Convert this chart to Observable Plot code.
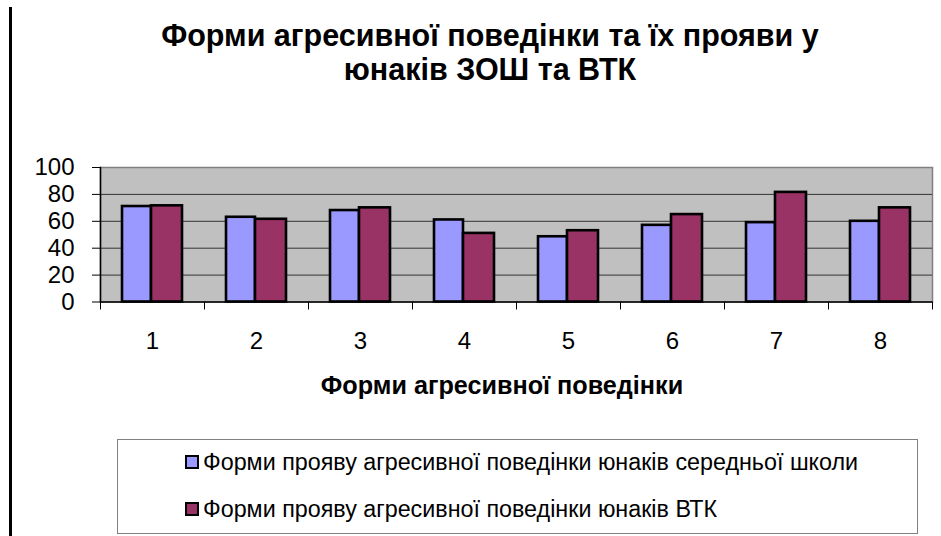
<!DOCTYPE html>
<html>
<head>
<meta charset="utf-8">
<script src="https://cdn.jsdelivr.net/npm/d3@7"></script>
<script src="https://cdn.jsdelivr.net/npm/@observablehq/plot@0.6"></script>
<style>
  html, body { margin: 0; padding: 0; background: #fff; }
  #wrap { position: relative; width: 941px; height: 536px; overflow: hidden; font-family: "Liberation Sans", Arial, sans-serif; color: #000; }
  #leftline { position: absolute; left: 9px; top: 7px; width: 3px; height: 529px; background: #000; }
  #title { position: absolute; left: 40px; width: 900px; top: 18px; text-align: center; font-weight: bold; font-size: 30.5px; line-height: 34px; }
  #chart { position: absolute; left: 0; top: 157px; }
  #xtitle { position: absolute; left: 202px; width: 600px; top: 371px; text-align: center; font-weight: bold; font-size: 25.2px; }
  #legend { position: absolute; left: 117px; top: 439px; width: 799px; height: 93px; border: 1px solid #808080; }
  .item { position: absolute; left: 67px; font-size: 23.3px; white-space: nowrap; }
  .sw { display: inline-block; width: 10px; height: 10px; border: 2px solid #000; margin-right: 4px; vertical-align: 1px; }
</style>
</head>
<body>
<div id="wrap">
  <div id="leftline"></div>
  <div id="title"></div>
  <div id="chart"></div>
  <div id="xtitle"></div>
  <div id="legend"></div>
</div>
<script>
const titleLines = ["Форми агресивної поведінки та їх прояви у", "юнаків ЗОШ та ВТК"];
const xTitle = "Форми агресивної поведінки";
const groups = [1, 2, 3, 4, 5, 6, 7, 8];
const seriesNames = [
  "Форми прояву агресивної поведінки юнаків середньої школи",
  "Форми прояву агресивної поведінки юнаків ВТК"
];
const seriesColors = ["#9999ff", "#993366"];
const school = [71, 63, 68, 61, 48.5, 57, 59, 60];
const vtk = [71.5, 61.5, 70, 51, 53, 65, 81.5, 70];
const yTicks = [0, 20, 40, 60, 80, 100];

const rows = groups.flatMap((g, i) => [
  {group: g, series: seriesNames[0], value: school[i]},
  {group: g, series: seriesNames[1], value: vtk[i]}
]);

document.getElementById("title").innerHTML = titleLines.join("<br>");
document.getElementById("xtitle").textContent = xTitle;

const chart = Plot.plot({
  width: 941,
  height: 200,
  marginLeft: 100,
  marginRight: 9,
  marginTop: 10,
  marginBottom: 55.5,
  style: {fontFamily: "'Liberation Sans', Arial, sans-serif", fontSize: "24px", background: "transparent", overflow: "visible", color: "#000"},
  x: {type: "band", domain: groups, padding: 0, label: null, axis: null},
  y: {domain: [0, 100], label: null, axis: null},
  marks: [
    Plot.frame({fill: "#c0c0c0", stroke: "#808080", strokeWidth: 1.5}),
    Plot.gridY([20, 40, 60, 80], {stroke: "#333", strokeOpacity: 1, strokeWidth: 1}),
    Plot.barY(rows.filter(d => d.series === seriesNames[0]), {x: "group", y: "value", fill: seriesColors[0], stroke: "#000", strokeWidth: 2.6, insetLeft: 22, insetRight: 53}),
    Plot.barY(rows.filter(d => d.series === seriesNames[1]), {x: "group", y: "value", fill: seriesColors[1], stroke: "#000", strokeWidth: 2.6, insetLeft: 51, insetRight: 22}),
    Plot.ruleY([0], {stroke: "#000", strokeWidth: 1.5}),
    Plot.frame({anchor: "left", stroke: "#000", strokeWidth: 1.5}),
    Plot.axisY({ticks: yTicks, tickSize: 8, tickPadding: 18, fontSize: 24, label: null}),
    Plot.axisX({tickSize: 0, tickPadding: 30, fontSize: 24, label: null}),
    Plot.axisX({ticks: groups, tickSize: 8, dx: -52, tickFormat: () => "", label: null}),
    Plot.axisX({ticks: [groups[groups.length - 1]], tickSize: 8, dx: 52, tickFormat: () => "", label: null})
  ]
});
document.getElementById("chart").appendChild(chart);

const legend = document.getElementById("legend");
seriesNames.forEach((name, i) => {
  const it = document.createElement("div");
  it.className = "item";
  it.style.top = (i === 0 ? 9 : 56) + "px";
  it.innerHTML = `<span class="sw" style="background:${seriesColors[i]}"></span>${name}`;
  legend.appendChild(it);
});
</script>
</body>
</html>
